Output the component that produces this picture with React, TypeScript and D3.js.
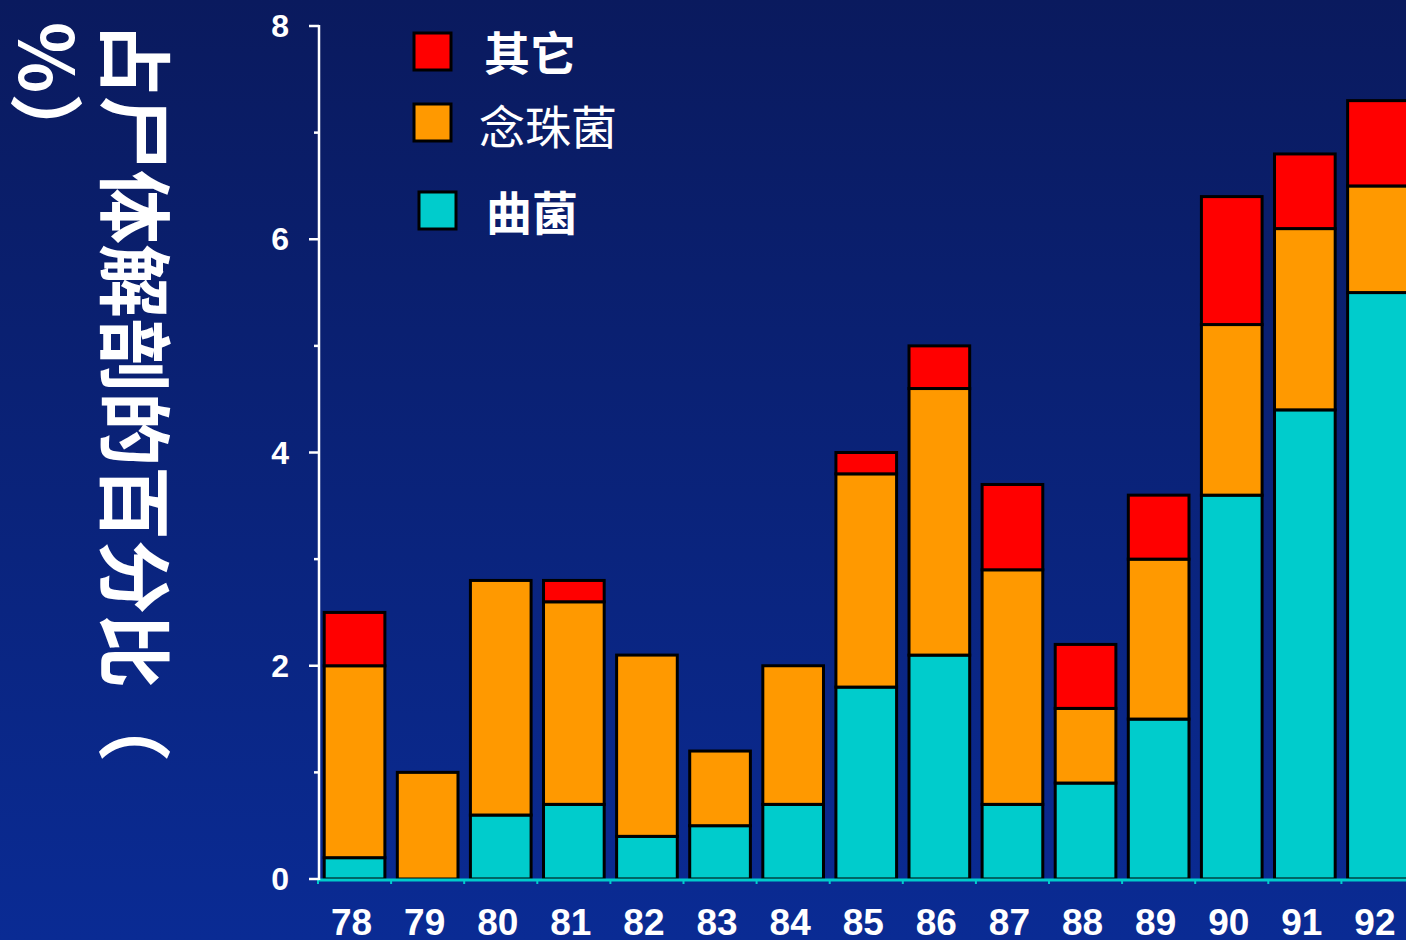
import * as d3 from 'd3';

const years = ['78', '79', '80', '81', '82', '83', '84', '85', '86', '87', '88', '89', '90', '91', '92'];
// 曲菌 (cyan), 念珠菌 (orange), 其它 (red) — stacked values
const quJun = [0.2, 0, 0.6, 0.7, 0.4, 0.5, 0.7, 1.8, 2.1, 0.7, 0.9, 1.5, 3.6, 4.4, 5.5];
const nianZhuJun = [1.8, 1.0, 2.2, 1.9, 1.7, 0.7, 1.3, 2.0, 2.5, 2.2, 0.7, 1.5, 1.6, 1.7, 1.0];
const qiTa = [0.5, 0, 0, 0.2, 0, 0, 0, 0.2, 0.4, 0.8, 0.6, 0.6, 1.2, 0.7, 0.8];
const yTicks = [0, 2, 4, 6, 8];
const yMinorTicks = [1, 3, 5, 7];

const seriesKeys = ['qu', 'nian', 'qi'];
const colors: Record<string, string> = { qu: '#00cccc', nian: '#ff9900', qi: '#ff0000' };

const W = 1406;
const H = 940;
const axisX = 319;
const baseY = 879;

export default function App() {
  const x = d3.scaleBand<string>()
    .domain(years)
    .range([318, 318 + 15 * 73.1])
    .paddingInner(0.17)
    .paddingOuter(0.085);
  const y = d3.scaleLinear().domain([0, 8]).range([baseY, 26]);

  const table = years.map((yr, i) => ({ year: yr, qu: quJun[i], nian: nianZhuJun[i], qi: qiTa[i] }));
  const stacked = d3.stack<any>().keys(seriesKeys)(table);

  const step = x.step();
  const catTicks = d3.range(years.length + 1).map(i => 318 + i * step).filter(v => v <= W);

  const cjk = '"Noto Sans CJK SC", "Noto Sans", sans-serif';
  const latin = '"Liberation Sans", Arial, sans-serif';

  const legend = [
    { label: '其它', color: colors.qi, sx: 414, sy: 33, tx: 484, ty: 53, weight: 700 },
    { label: '念珠菌', color: colors.nian, sx: 414, sy: 104, tx: 479, ty: 127, weight: 400 },
    { label: '曲菌', color: colors.qu, sx: 419, sy: 192, tx: 486, ty: 213, weight: 700 },
  ];

  return (
    <svg width={W} height={H} style={{ position: 'fixed', left: 0, top: 0 }}>
      <defs>
        <linearGradient id="bg" x1="0" y1="0" x2="0" y2="1">
          <stop offset="0" stopColor="#0a1a5e" />
          <stop offset="1" stopColor="#0a2b94" />
        </linearGradient>
      </defs>
      <rect width={W} height={H} fill="url(#bg)" />

      {/* y axis title, rotated */}
      <g transform="translate(139, 22) rotate(90)" fill="#fff" fontFamily={cjk} fontWeight={700} fontSize={74}>
        <text x={0} y={0} dominantBaseline="central">占尸体解剖的百分比（</text>
        <text x={0} y={88} dominantBaseline="central">%）</text>
      </g>

      {/* bars */}
      {stacked.map(layer => (
        <g key={layer.key} fill={colors[layer.key]} stroke="#000" strokeWidth={3}>
          {layer.map((d, i) => {
            const h = y(d[0]) - y(d[1]);
            if (h <= 0) return null;
            return (
              <rect key={i} x={x(years[i])} y={y(d[1])} width={x.bandwidth()} height={h} />
            );
          })}
        </g>
      ))}

      {/* x axis */}
      <line x1={318} x2={W} y1={baseY + 1} y2={baseY + 1} stroke="#00cccc" strokeWidth={3} />
      {catTicks.map((t, i) => (
        <line key={i} x1={t} x2={t} y1={baseY} y2={baseY + 5} stroke="#00cccc" strokeWidth={2} />
      ))}
      {years.map(yr => (
        <text key={yr} x={(x(yr) as number) + x.bandwidth() / 2 - 3} y={935} textAnchor="middle"
          fill="#fff" fontFamily={latin} fontWeight={700} fontSize={37}>{yr}</text>
      ))}

      {/* y axis */}
      <line x1={axisX} x2={axisX} y1={y(8) - 1} y2={baseY + 1} stroke="#fff" strokeWidth={2.5} />
      {yTicks.map(t => (
        <g key={t}>
          <line x1={309} x2={axisX} y1={y(t)} y2={y(t)} stroke="#fff" strokeWidth={2.5} />
          <text x={289} y={y(t)} dy="0.35em" textAnchor="end" fill="#fff"
            fontFamily={latin} fontWeight={700} fontSize={32}>{t}</text>
        </g>
      ))}
      {yMinorTicks.map(t => (
        <line key={t} x1={314} x2={axisX} y1={y(t)} y2={y(t)} stroke="#fff" strokeWidth={2.5} />
      ))}

      {/* legend */}
      {legend.map(l => (
        <g key={l.label}>
          <rect x={l.sx} y={l.sy} width={37} height={37} fill={l.color} stroke="#000" strokeWidth={3} />
          <text x={l.tx} y={l.ty} dy="0.36em" fill="#fff" fontFamily={cjk} fontWeight={l.weight} fontSize={46}>{l.label}</text>
        </g>
      ))}
    </svg>
  );
}
